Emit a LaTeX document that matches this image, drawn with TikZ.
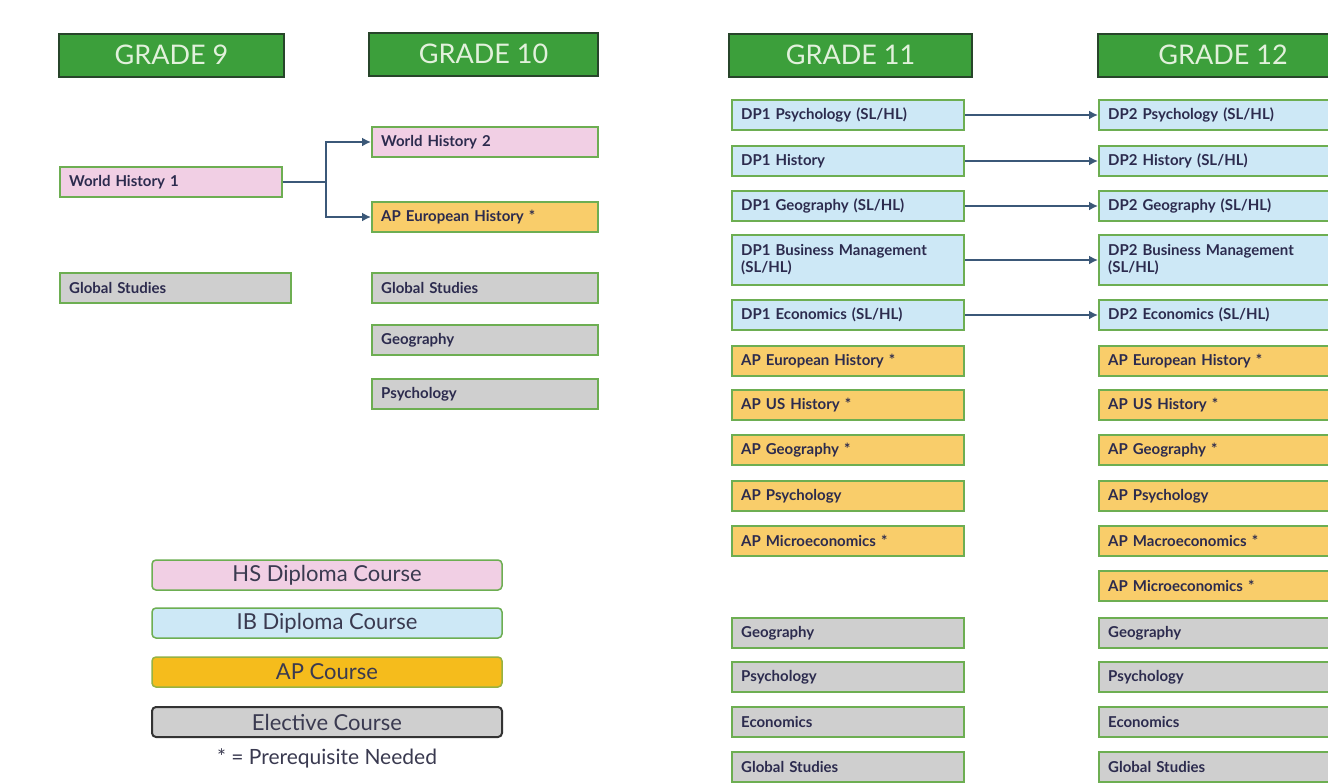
\documentclass[tikz,border=0pt]{standalone}
\usepackage{fontspec}
\setmainfont{Lato}
\usetikzlibrary{arrows.meta}
\definecolor{pinkc}{HTML}{F1CFE4}
\definecolor{bluec}{HTML}{CDE8F6}
\definecolor{apc}{HTML}{F9CD6A}
\definecolor{aplegend}{HTML}{F5BC1C}
\definecolor{grayc}{HTML}{CFCFCF}
\definecolor{hdrfill}{HTML}{3C9F3B}
\definecolor{hdrdraw}{HTML}{27452A}
\definecolor{hdrtext}{HTML}{E2F1DC}
\definecolor{boxgreen}{HTML}{6DAE52}
\definecolor{navy}{HTML}{2C2B4E}
\definecolor{arrowc}{HTML}{3B5878}
\definecolor{legtext}{HTML}{3A3A50}
\begin{document}
\begin{tikzpicture}[x=1pt,y=-1pt,
  hdr/.style={draw=hdrdraw, fill=hdrfill, line width=2pt, minimum height=43pt, inner sep=0pt,
    text=hdrtext, font=\fontsize{27}{30}\selectfont, anchor=west},
  course/.style={draw=boxgreen, line width=2.4pt, minimum height=30pt, inner xsep=9pt, inner ysep=0pt,
    anchor=west, align=left, text=navy, font=\bfseries\fontsize{15}{17}\selectfont},
  pk/.style={course, fill=pinkc},
  bl/.style={course, fill=bluec},
  ap/.style={course, fill=apc},
  el/.style={course, fill=grayc},
  cA/.style={text width=204pt},
  cAg/.style={text width=213pt},
  cB/.style={text width=208pt},
  cC/.style={text width=214pt},
  cD/.style={text width=229pt},
  arr/.style={draw=arrowc, line width=2.4pt, -{Latex[length=9pt,width=9pt]}},
  legend/.style={rounded corners=4pt, minimum width=350pt, minimum height=30pt, inner sep=0pt,
    text=legtext, font=\fontsize{22}{24}\selectfont},
]
\clip (0,0) rectangle (1328,782);
\fill[white] (0,0) rectangle (1328,782);

% headers
\node[hdr, minimum width=225pt] (h9) at (58,55) {GRADE 9};
\node[hdr, minimum width=229pt] (h10) at (368,54) {GRADE 10};
\node[hdr, minimum width=243pt] (h11) at (728,55) {GRADE 11};
\node[hdr, minimum width=250pt] (h12) at (1097,55) {GRADE 12};

% grade 9
\node[pk, cA] (wh1) at (59,182) {World History 1};
\node[el, cAg] (gs9) at (59,288) {Global Studies};

% grade 10
\node[pk, cB] (wh2) at (371,142) {World History 2};
\node[ap, cB] (apeu10) at (371,217) {AP European History *};
\node[el, cB] (gs10) at (371,288) {Global Studies};
\node[el, cB] (geo10) at (371,340) {Geography};
\node[el, cB] (psy10) at (371,394) {Psychology};

\coordinate (j) at (326,182);
\draw[arr] (wh1.east) -- (j) |- (wh2.west);
\draw[arr] (j) |- (apeu10.west);

% grade 11
\node[bl, cC] (dp1psy) at (731,115) {DP1 Psychology (SL/HL)};
\node[bl, cC] (dp1his) at (731,161) {DP1 History};
\node[bl, cC] (dp1geo) at (731,206) {DP1 Geography (SL/HL)};
\node[bl, cC, minimum height=50pt] (dp1bus) at (731,260) {DP1 Business Management\\(SL/HL)};
\node[bl, cC] (dp1eco) at (731,315) {DP1 Economics (SL/HL)};
\node[ap, cC] (apeu11) at (731,361) {AP European History *};
\node[ap, cC] (apus11) at (731,405) {AP US History *};
\node[ap, cC] (apgeo11) at (731,450) {AP Geography *};
\node[ap, cC] (appsy11) at (731,496) {AP Psychology};
\node[ap, cC] (apmic11) at (731,541) {AP Microeconomics *};
\node[el, cC] (geo11) at (731,633) {Geography};
\node[el, cC] (psy11) at (731,677) {Psychology};
\node[el, cC] (eco11) at (731,722) {Economics};
\node[el, cC] (gs11) at (731,767) {Global Studies};

% grade 12
\node[bl, cD] (dp2psy) at (1098,115) {DP2 Psychology (SL/HL)};
\node[bl, cD] (dp2his) at (1098,161) {DP2 History (SL/HL)};
\node[bl, cD] (dp2geo) at (1098,206) {DP2 Geography (SL/HL)};
\node[bl, cD, minimum height=50pt] (dp2bus) at (1098,260) {DP2 Business Management\\(SL/HL)};
\node[bl, cD] (dp2eco) at (1098,315) {DP2 Economics (SL/HL)};
\node[ap, cD] (apeu12) at (1098,361) {AP European History *};
\node[ap, cD] (apus12) at (1098,405) {AP US History *};
\node[ap, cD] (apgeo12) at (1098,450) {AP Geography *};
\node[ap, cD] (appsy12) at (1098,496) {AP Psychology};
\node[ap, cD] (apmac12) at (1098,541) {AP Macroeconomics *};
\node[ap, cD] (apmic12) at (1098,586) {AP Microeconomics *};
\node[el, cD] (geo12) at (1098,633) {Geography};
\node[el, cD] (psy12) at (1098,677) {Psychology};
\node[el, cD] (eco12) at (1098,722) {Economics};
\node[el, cD] (gs12) at (1098,767) {Global Studies};

\draw[arr] (dp1psy.east) -- (dp2psy.west);
\draw[arr] (dp1his.east) -- (dp2his.west);
\draw[arr] (dp1geo.east) -- (dp2geo.west);
\draw[arr] (dp1bus.east) -- (dp2bus.west);
\draw[arr] (dp1eco.east) -- (dp2eco.west);

% legend
\node[legend, draw=boxgreen, line width=1.5pt, fill=pinkc] (lhs) at (327,575) {HS Diploma Course};
\node[legend, draw=boxgreen, line width=1.5pt, fill=bluec] (lib) at (327,623) {IB Diploma Course};
\node[legend, draw=boxgreen!70!aplegend, line width=1.5pt, fill=aplegend] (lap) at (327,672) {AP Course};
\node[legend, draw=black!80, line width=2pt, fill=grayc] (lel) at (327,722) {Elective Course};
\node[text=legtext, font=\fontsize{21}{24}\selectfont, inner sep=0pt] (lnote) at (327,758) {* = Prerequisite Needed};
\end{tikzpicture}
\end{document}
